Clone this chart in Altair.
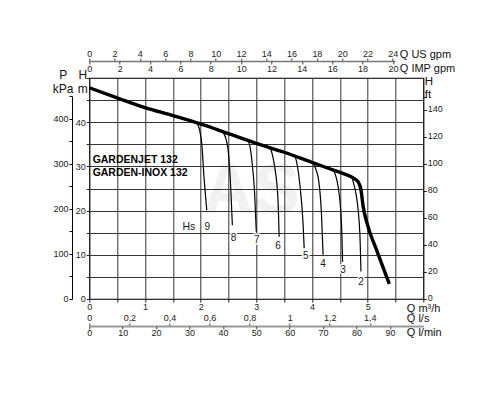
import altair as alt
import pandas as pd

# ---------------- data ----------------
# main pump curve: Q [m3/h] vs H [m]
Q_MAIN = [0.0, 0.5, 1.0, 1.5, 2.0, 2.5, 3.0, 3.5, 4.0, 4.4, 4.6, 4.74, 4.83, 4.88, 4.92, 4.99, 5.16, 5.39]
H_MAIN = [47.8, 45.5, 43.3, 41.5, 39.6, 37.4, 35.2, 33.2, 30.9, 29.1, 28.2, 27.4, 26.5, 24.7, 20.9, 17.1, 11.1, 3.4]

# suction-lift (Hs) curves
HS_NAMES = ["9", "8", "7", "6", "5", "4", "3", "2"]
HS_Q = [
    [1.93, 1.98, 2.02, 2.06, 2.11],
    [2.41, 2.46, 2.50, 2.54, 2.57],
    [2.84, 2.89, 2.92, 2.97, 3.00],
    [3.24, 3.29, 3.33, 3.39, 3.41],
    [3.69, 3.74, 3.78, 3.84, 3.86],
    [4.02, 4.08, 4.12, 4.17, 4.20],
    [4.39, 4.44, 4.47, 4.53, 4.55],
    [4.72, 4.76, 4.79, 4.86, 4.88],
]
HS_H = [
    [39.9, 38.3, 35.2, 27.7, 20.1],
    [37.6, 36.0, 33.0, 25.4, 16.7],
    [36.1, 34.3, 31.4, 23.9, 15.2],
    [34.5, 32.6, 29.9, 22.4, 14.1],
    [32.6, 30.0, 26.2, 17.1, 11.5],
    [30.8, 29.0, 26.9, 19.4, 10.0],
    [29.1, 27.3, 25.4, 17.1, 8.4],
    [27.4, 25.6, 23.9, 14.9, 6.2],
]
HS_LABEL_Q = [2.12, 2.59, 3.01, 3.39, 3.89, 4.20, 4.56, 4.88]
HS_LABEL_H = [16.4, 13.7, 13.4, 12.0, 9.7, 7.9, 6.6, 3.8]
HS_TITLE = ["Hs"]
HS_TITLE_Q = [1.79]
HS_TITLE_H = [16.4]

MODEL_NAMES = ["GARDENJET 132", "GARDEN-INOX 132"]
MODEL_Q = [0.06, 0.06]
MODEL_H = [31.45, 28.4]

WATERMARK = ["AS"]
WATERMARK_Q = [2.91]
WATERMARK_H = [24.3]

# axis tick values
Q_M3H_TICKS = [0, 0.5, 1, 1.5, 2, 2.5, 3, 3.5, 4, 4.5, 5, 5.5, 6]
H_M_TICKS = [0, 5, 10, 15, 20, 25, 30, 35, 40, 45, 50]
P_KPA_TICKS = [0, 50, 100, 150, 200, 250, 300, 350, 400, 450]
H_FT_TICKS = [0, 20, 40, 60, 80, 100, 120, 140, 150]
US_GPM_TICKS = [0, 2, 4, 6, 8, 10, 12, 14, 16, 18, 20, 22, 24]
IMP_GPM_TICKS = [0, 2, 4, 6, 8, 10, 12, 14, 16, 18, 20]
LS_TICKS = [0, 0.2, 0.4, 0.6, 0.8, 1.0, 1.2, 1.4]
LMIN_TICKS = [0, 10, 20, 30, 40, 50, 60, 70, 80, 90]

# ---------------- layout ----------------
W, H = 334, 221
FONT = "Liberation Sans Narrow, Arial Narrow, Liberation Sans, Arial, sans-serif"
INK = "#1a1a1a"

main_df = pd.DataFrame({"Q": Q_MAIN, "H": H_MAIN})
hs_rows = []
for name, qs, hs in zip(HS_NAMES, HS_Q, HS_H):
    for q, h in zip(qs, hs):
        hs_rows.append({"curve": name, "Q": q, "H": h})
hs_df = pd.DataFrame(hs_rows)
hs_lab_df = pd.DataFrame({"t": HS_NAMES, "Q": HS_LABEL_Q, "H": HS_LABEL_H})
hs_title_df = pd.DataFrame({"t": HS_TITLE, "Q": HS_TITLE_Q, "H": HS_TITLE_H})
model_df = pd.DataFrame({"t": MODEL_NAMES, "Q": MODEL_Q, "H": MODEL_H})
wm_df = pd.DataFrame({"t": WATERMARK, "Q": WATERMARK_Q, "H": WATERMARK_H})
dummy = pd.DataFrame({"v": [0]})

xs = alt.Scale(domain=[0, 6], nice=False)
ys = alt.Scale(domain=[0, 50], nice=False)


def X(axis=None):
    return alt.X("Q:Q", scale=xs, axis=axis)


def Y(axis=None):
    return alt.Y("H:Q", scale=ys, axis=axis)


# main layer with grid, bottom m3/h axis and left m axis
main_line = alt.Chart(main_df).mark_line(
    color="black", strokeWidth=3.4, interpolate="monotone"
).encode(
    x=X(alt.Axis(
        orient="bottom", values=Q_M3H_TICKS, grid=True, gridColor="#333", gridWidth=1,
        domain=False, ticks=True, tickSize=3, tickColor=INK,
        labelExpr="datum.value % 1 === 0 && datum.value <= 5 ? format(datum.value, 'd') : ''",
        labelPadding=1, title="Q m³/h", titleX=317, titleY=9.5,
        titleAlign="left", titleBaseline="middle",
    )),
    y=Y(alt.Axis(
        orient="left", values=H_M_TICKS, grid=True, gridColor="#333", gridWidth=1,
        domain=False, ticks=True, tickSize=3, tickColor=INK,
        labelExpr="datum.value % 10 === 0 && datum.value <= 40 ? datum.label : ''",
        labelPadding=1, title=["H", "m"], titleAngle=0, titleX=-7, titleY=-4,
        titleAlign="center", titleBaseline="middle", titleLineHeight=15, titleFontSize=12,
    )),
)

wm = alt.Chart(wm_df).mark_text(
    font="Liberation Sans, sans-serif", fontSize=70, fontWeight="bold",
    color="black", opacity=0.05, baseline="middle", align="center",
).encode(x=X(), y=Y(), text="t:N")

hs_lines = alt.Chart(hs_df).mark_line(
    color="black", strokeWidth=1.2, interpolate="monotone"
).encode(x=X(), y=Y(), detail="curve:N")

hs_halo = alt.Chart(hs_lab_df).mark_text(
    font=FONT, fontSize=10, color="white", stroke="white", strokeWidth=3,
    baseline="middle", align="center",
).encode(x=X(), y=Y(), text="t:N")
hs_text = alt.Chart(hs_lab_df).mark_text(
    font=FONT, fontSize=10, color=INK, baseline="middle", align="center",
).encode(x=X(), y=Y(), text="t:N")
hs_title_halo = alt.Chart(hs_title_df).mark_text(
    font=FONT, fontSize=10.5, color="white", stroke="white", strokeWidth=3,
    baseline="middle", align="center",
).encode(x=X(), y=Y(), text="t:N")
hs_title = alt.Chart(hs_title_df).mark_text(
    font=FONT, fontSize=10.5, color=INK, baseline="middle", align="center",
).encode(x=X(), y=Y(), text="t:N")

model_text = alt.Chart(model_df).mark_text(
    font=FONT, fontSize=10.5, fontWeight="bold", color="black", baseline="middle", align="left",
).encode(x=X(), y=Y(), text="t:N")

# ---- extra unit axes ----
p_axis = alt.Chart(dummy).mark_point(opacity=0).encode(
    y=alt.Y("v:Q", scale=alt.Scale(domain=[0, 450], range=[H, H - 450 / 490.33 * H], nice=False),
            axis=alt.Axis(
                orient="left", offset=17.3, values=P_KPA_TICKS, grid=False,
                domain=True, domainColor="black", domainWidth=1,
                ticks=True, tickSize=3, tickColor="black", labelPadding=1,
                labelExpr="datum.value % 100 === 0 ? datum.label : ''",
                title=["P", "kPa"], titleAngle=0, titleX=-9.3, titleY=-4,
                titleAlign="center", titleBaseline="middle", titleLineHeight=15, titleFontSize=12,
            ))
)

ft_axis = alt.Chart(dummy).mark_point(opacity=0).encode(
    y=alt.Y("v:Q", scale=alt.Scale(domain=[0, 50 / 0.3048], nice=False),
            axis=alt.Axis(
                orient="right", offset=0, values=H_FT_TICKS, grid=False, domain=False,
                ticks=True, tickSize=3, tickColor=INK, labelPadding=1, labelOffset=-1.5,
                labelExpr="datum.value <= 140 ? datum.label : ''",
                title=["H", "ft"], titleAngle=0, titleX=1, titleY=3.5,
                titleAlign="left", titleBaseline="middle", titleLineHeight=13, titleFontSize=11.5,
            ))
)

TOP_LEN = 305.7
us_axis = alt.Chart(dummy).mark_point(opacity=0).encode(
    x=alt.X("v:Q", scale=alt.Scale(domain=[0, TOP_LEN / (W / 6 / 4.40287)], range=[0, TOP_LEN], nice=False),
            axis=alt.Axis(
                orient="top", offset=17, values=US_GPM_TICKS, grid=False,
                domain=True, domainColor="#777", domainWidth=1.5,
                ticks=True, tickSize=3, tickColor="#444", labelPadding=0,
                title="Q US gpm", titleX=310, titleY=-7, titleAlign="left", titleBaseline="middle",
            ))
)
imp_axis = alt.Chart(dummy).mark_point(opacity=0).encode(
    x=alt.X("v:Q", scale=alt.Scale(domain=[0, TOP_LEN / (W / 6 / 3.66615)], range=[0, TOP_LEN], nice=False),
            axis=alt.Axis(
                orient="bottom", offset=-(H + 17), values=IMP_GPM_TICKS, grid=False, domain=False,
                ticks=True, tickSize=3, tickColor="#444", labelPadding=0,
                title="Q IMP gpm", titleX=310, titleY=7, titleAlign="left", titleBaseline="middle",
            ))
)
ls_axis = alt.Chart(dummy).mark_point(opacity=0).encode(
    x=alt.X("v:Q", scale=alt.Scale(domain=[0, 6 / 3.6], nice=False),
            axis=alt.Axis(
                orient="top", offset=-(H + 27), values=LS_TICKS, grid=False,
                domain=True, domainColor="#999", domainWidth=2,
                ticks=True, tickSize=3, tickColor="#444", labelPadding=0,
                labelExpr="replace(format(datum.value, '~g'), '.', ',')",
                title="Q l/s", titleX=317, titleY=-7, titleAlign="left", titleBaseline="middle",
            ))
)
lmin_axis = alt.Chart(dummy).mark_point(opacity=0).encode(
    x=alt.X("v:Q", scale=alt.Scale(domain=[0, 100], nice=False),
            axis=alt.Axis(
                orient="bottom", offset=27, values=LMIN_TICKS, grid=False, domain=False,
                ticks=True, tickSize=3, tickColor="#444", labelPadding=0,
                title="Q l/min", titleX=317, titleY=7, titleAlign="left", titleBaseline="middle",
            ))
)

chart = alt.layer(
    main_line, wm, hs_lines, hs_halo, hs_text, hs_title_halo, hs_title, model_text,
    p_axis, ft_axis, us_axis, imp_axis, ls_axis, lmin_axis,
).resolve_scale(
    x="independent", y="independent"
).properties(
    width=W, height=H,
    autosize=alt.AutoSizeParams(type="none"),
    padding={"left": 81.3, "top": 70, "right": 60, "bottom": 90},
    background="white",
).configure_view(
    stroke="black", strokeWidth=1.2
).configure_axis(
    labelFont=FONT, titleFont=FONT, labelFontSize=9, titleFontSize=11,
    labelColor="#222", titleColor="#111", titleFontWeight="normal",
    labelOverlap=False, labelFlush=False,
)

chart.save("out.html", embed_options={"renderer": "svg", "actions": False})
